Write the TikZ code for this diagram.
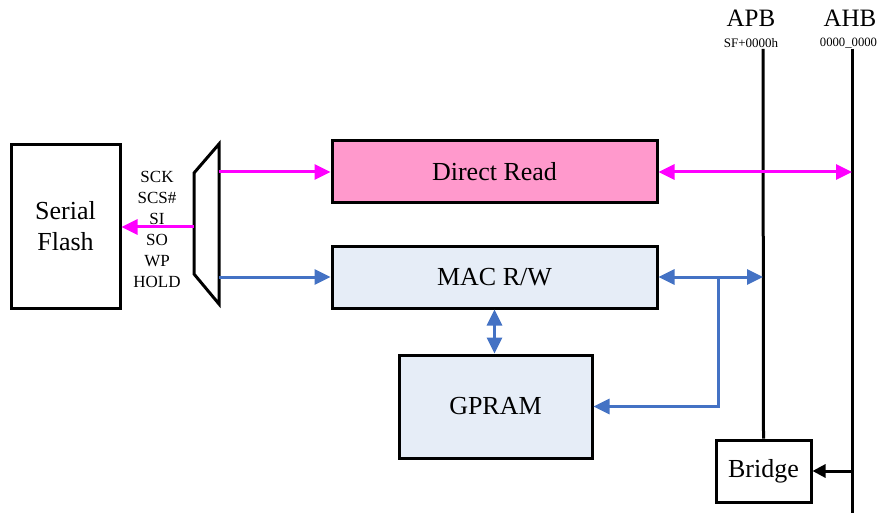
\documentclass[tikz,border=0pt]{standalone}
\usepackage{fontspec}
\setmainfont{Liberation Serif}
\usetikzlibrary{arrows.meta}
\definecolor{mag}{HTML}{FF00FF}
\definecolor{blu}{HTML}{4472C4}
\definecolor{pinkfill}{HTML}{FF99CC}
\definecolor{bluefill}{HTML}{E6EDF7}
\begin{document}
\begin{tikzpicture}[x=1pt,y=-1pt,
  box/.style={draw=black,line width=3pt,inner sep=0pt,align=center,font=\fontsize{26}{31}\selectfont},
  magarrow/.style={draw=mag,line width=3pt,-{Triangle[length=16pt,width=15pt]}},
  magdbl/.style={draw=mag,line width=3pt,{Triangle[length=16pt,width=15pt]}-{Triangle[length=16pt,width=15pt]}},
  bluarrow/.style={draw=blu,line width=3pt,-{Triangle[length=16pt,width=15pt]}},
  bludbl/.style={draw=blu,line width=3pt,{Triangle[length=16pt,width=15pt]}-{Triangle[length=16pt,width=15pt]}},
  bus/.style={draw=black,line width=3pt},
  busarrow/.style={draw=black,line width=3pt,-{Triangle[length=13pt,width=13pt]}}
]
\useasboundingbox (0,0) rectangle (878,513);
\fill[white] (0,0) rectangle (878,513);

% boxes
\node[box,minimum width=109pt,minimum height=163pt] (sf) at (65.5,226.5) {Serial\\Flash};
\node[box,fill=pinkfill,minimum width=325pt,minimum height=62pt] (dr) at (494.5,172) {Direct Read};
\node[box,fill=bluefill,minimum width=325pt,minimum height=62pt] (mac) at (494.5,277) {MAC R/W};
\node[box,fill=bluefill,minimum width=193pt,minimum height=103pt] (gp) at (495.5,406.5) {GPRAM};
\node[box,minimum width=95pt,minimum height=62pt] (br) at (763.5,471) {Bridge};

% mux
\coordinate (m1) at (194,173);
\coordinate (m2) at (219,144);
\coordinate (m3) at (219,304);
\coordinate (m4) at (194,274);
\draw[line width=3pt,line join=miter] (m1) -- (m2) -- (m3) -- (m4) -- cycle;
\coordinate (mdr) at (219,172);
\coordinate (mmac) at (219,277);
\coordinate (msi) at (194,227);

% pin labels
\node[align=center,inner sep=0pt,font=\fontsize{17}{21}\selectfont] (pins) at (157,229.5) {SCK\\SCS\#\\SI\\SO\\WP\\HOLD};

% bus lines
\coordinate (apbtop) at (763,49);
\coordinate (ahbtop) at (852,49);
\coordinate (ahbbot) at (852,513);
\draw[bus] (apbtop) -- (br.north);
\draw[bus] (ahbtop) -- (ahbbot);
\node[font=\fontsize{25}{30}\selectfont,inner sep=0pt] (apb) at (751,18) {APB};
\node[font=\fontsize{25}{30}\selectfont,inner sep=0pt] (ahb) at (850,18) {AHB};
\node[font=\fontsize{13}{15}\selectfont,inner sep=0pt] (apba) at (751,43) {SF+0000h};
\node[font=\fontsize{12.7}{15}\selectfont,inner sep=0pt] (ahba) at (848.5,43) {0000\_0000};

% connectors
\draw[magarrow] (msi) -- (sf.east |- msi);
\draw[magarrow] (mdr) -- (dr.west);
\draw[bluarrow] (mmac) -- (mac.west);
\draw[magdbl] (dr.east) -- (dr.east -| ahbtop);
\draw[bludbl] (mac.east) -- (mac.east -| apbtop);
\coordinate (brc) at (718,277);
\draw[bluarrow] (brc) |- (gp.east);
\draw[bludbl] (mac.south) -- (mac.south |- gp.north);
\coordinate (ahbbr) at (852,471);
\draw[busarrow] (ahbbr) -- (br.east);
\end{tikzpicture}
\end{document}
